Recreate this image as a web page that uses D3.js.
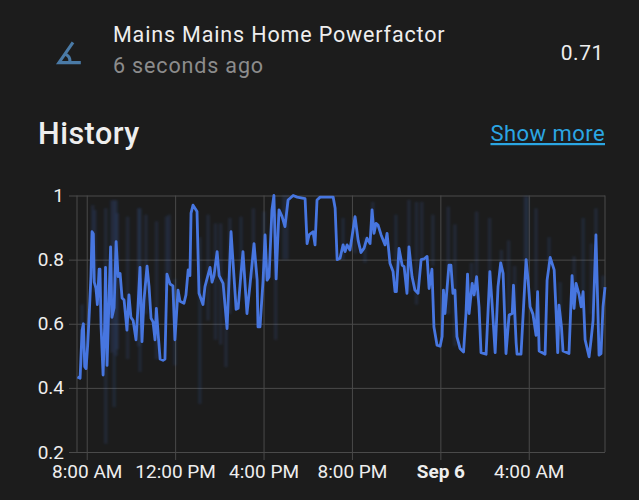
<!DOCTYPE html>
<html><head><meta charset="utf-8">
<script src="https://cdn.jsdelivr.net/npm/d3@7/dist/d3.min.js"></script>
<style>html,body{margin:0;padding:0;background:#1c1c1c;overflow:hidden}svg{display:block;font-family:Roboto,sans-serif}</style>
</head><body><svg id="c" width="639" height="500"></svg>
<script>
// hours after 8:00 AM Sep 5
const hours=[-0.42,-0.30,-0.21,-0.15,-0.09,-0.03,0.04,0.10,0.19,0.24,0.30,0.34,0.42,0.48,0.56,0.60,0.65,0.74,0.81,0.85,0.92,1.01,1.08,1.14,1.24,1.33,1.42,1.51,1.60,1.69,1.78,1.82,1.91,2.00,2.10,2.23,2.32,2.41,2.50,2.59,2.73,2.82,2.91,3.00,3.09,3.15,3.23,3.32,3.45,3.54,3.63,3.77,3.90,3.99,4.13,4.22,4.40,4.49,4.59,4.67,4.72,4.81,4.99,5.08,5.26,5.35,5.58,5.67,5.76,5.90,5.99,6.17,6.35,6.53,6.76,6.85,6.98,7.07,7.25,7.38,7.57,7.71,7.75,7.84,7.98,8.07,8.16,8.25,8.38,8.47,8.57,8.70,8.84,8.97,9.11,9.34,9.52,9.88,9.97,10.06,10.24,10.33,10.42,10.56,11.15,11.24,11.33,11.46,11.60,11.69,11.78,11.91,12.00,12.14,12.28,12.41,12.55,12.68,12.82,12.91,13.00,13.09,13.18,13.32,13.50,13.59,13.72,13.86,13.95,14.01,14.13,14.27,14.36,14.49,14.58,14.72,14.85,14.99,15.13,15.26,15.40,15.49,15.62,15.71,15.85,15.99,16.08,16.14,16.21,16.39,16.48,16.57,16.66,16.75,16.89,17.05,17.16,17.23,17.30,17.44,17.53,17.64,17.75,17.84,18.07,18.24,18.34,18.48,18.61,18.73,18.84,18.97,19.11,19.25,19.31,19.43,19.47,19.65,19.88,19.97,20.06,20.19,20.33,20.40,20.47,20.74,20.83,20.97,21.15,21.24,21.31,21.37,21.48,21.55,21.82,21.96,22.05,22.14,22.28,22.37,22.46,22.55,22.73,22.82,22.91,23.04,23.18,23.27,23.36,23.45];
const powerFactor=[.434,.43,.58,.60,.466,.46,.53,.61,.747,.887,.88,.73,.71,.66,.77,.77,.59,.44,.59,.776,.47,.68,.84,.62,.65,.856,.747,.757,.68,.674,.61,.58,.69,.62,.61,.55,.653,.776,.544,.674,.78,.716,.617,.606,.55,.648,.57,.49,.486,.49,.755,.724,.718,.55,.705,.67,.664,.69,.768,.75,.945,.97,.95,.695,.66,.716,.776,.73,.75,.825,.75,.726,.585,.887,.645,.648,.756,.825,.632,.716,.85,.736,.59,.59,.736,.877,.736,.746,.955,1.0,.74,.955,.934,.903,.986,1.0,.995,.99,.85,.877,.887,.846,.986,.995,.995,.96,.80,.804,.846,.825,.846,.83,.87,.934,.86,.822,.836,.867,.85,.955,.882,.913,.908,.877,.846,.882,.789,.763,.70,.70,.835,.783,.778,.695,.84,.747,.705,.695,.80,.802,.81,.71,.77,.59,.533,.53,.56,.705,.632,.783,.783,.695,.705,.56,.523,.512,.632,.755,.632,.726,.69,.747,.653,.51,.505,.7625,.664,.51,.716,.79,.757,.507,.627,.632,.72,.54,.505,.505,.80,.736,.653,.63,.564,.70,.515,.505,.736,.807,.768,.632,.51,.658,.59,.515,.507,.75,.648,.726,.69,.653,.70,.55,.497,.55,.61,.877,.502,.507,.653,.714];
// faint min/max bands behind the mean line
const bandHours=[-0.21,0.27,0.37,0.86,1.14,1.24,1.33,1.38,1.85,2.35,2.41,2.68,3.16,3.61,3.73,3.99,5.12,5.49,5.83,6.06,6.30,6.48,6.98,7.54,8.02,8.55,8.92,9.06,11.60,12.14,12.59,12.94,13.99,14.58,14.92,15.16,15.66,16.36,16.66,17.64,17.41,18.23,18.76,19.09,19.36,19.84,19.94,20.33,20.92,21.42,22.05,22.46,23.04,23.36,22.84];
const bandHigh=[.66,.97,.955,.96,.985,.985,.985,.945,.934,.96,.96,.94,.92,.935,.94,.74,.87,.94,.913,.913,.74,.93,.934,.96,.95,.945,1.0,1.0,.93,.934,.87,.98,.94,.986,.98,.98,.94,.965,.91,.95,.79,.93,.83,.86,.78,.997,.997,.96,.87,.73,.81,.93,.96,.75,.85];
const bandLow=[.466,.74,.70,.226,.51,.34,.50,.52,.49,.53,.45,.63,.49,.70,.73,.47,.35,.61,.55,.535,.465,.63,.74,.74,.74,.55,.80,.80,.80,.82,.79,.88,.70,.70,.66,.80,.78,.63,.53,.68,.68,.74,.74,.63,.60,.79,.79,.70,.78,.51,.65,.70,.87,.71,.63];
const yTicks=[0.2,0.4,0.6,0.8,1];
const xTicks=[0,4,8,12,16,20];
const xLabels=["8:00 AM","12:00 PM","4:00 PM","8:00 PM","Sep 6","4:00 AM"];

const svg=d3.select("#c");
const defs=svg.append("defs");
defs.append("filter").attr("id","soft").attr("x","-5%").attr("y","-5%").attr("width","110%").attr("height","110%")
  .append("feGaussianBlur").attr("stdDeviation",0.9);
defs.append("filter").attr("id","aa").attr("x","-5%").attr("y","-5%").attr("width","110%").attr("height","110%")
  .append("feGaussianBlur").attr("stdDeviation",0.35);
const x=d3.scaleLinear().domain([-0.44,23.45]).range([77,605]);
const y=d3.scaleLinear().domain([0.2,1]).range([452,195.5]);
const grid="#4a4a4a";

function txt(s,px,py,size,fill,opt={}){
  const t=svg.append("text").attr("x",px).attr("y",py).attr("font-size",size).attr("fill",fill)
    .attr("letter-spacing",opt.ls||0).attr("text-anchor",opt.anchor||"start").attr("font-weight",opt.w||400).text(s);
  if(opt.u)t.attr("text-decoration","underline");
  return t;
}
txt("Mains Mains Home Powerfactor",113,42,21.5,"#eeeeee",{ls:0.85});
txt("6 seconds ago",113,73,21.5,"#8c8c8c",{ls:0.85});
txt("0.71",604,60,21,"#eeeeee",{anchor:"end",ls:0.6});
txt("History",38,144,30.5,"#eeeeee",{w:500,ls:0.5});
txt("Show more",605,141,22,"#2ba6e3",{anchor:"end",u:true,ls:0.45});
svg.append("path").attr("d","M20,19H4.09L14.18,4.43L15.82,5.57L11.28,12.13C12.89,12.96 14,14.62 14,16.54C14,16.7 14,16.85 13.97,17H20V19M7.91,17H11.96C12,16.85 12,16.7 12,16.54C12,15.28 11.24,14.2 10.14,13.74L7.91,17Z")
  .attr("fill","#4a7aa6").attr("transform","translate(49.6,34.5) scale(1.56)");

// axes
const gy=svg.append("g").attr("transform","translate(77,0)")
  .call(d3.axisLeft(y).tickValues(yTicks).tickFormat(d3.format("~g")).tickSize(8).tickPadding(5));
gy.selectAll(".tick line").clone().attr("x1",0).attr("x2",528);
gy.selectAll("line").attr("stroke",grid).attr("stroke-width",1);
gy.select(".domain").attr("stroke",grid).attr("d","M0,195.5V452");
gy.selectAll("text").attr("fill","#eeeeee").attr("font-size",19).attr("font-family","Roboto,sans-serif");

const gx=svg.append("g").attr("transform","translate(0,452)")
  .call(d3.axisBottom(x).tickValues(xTicks).tickFormat((d,i)=>xLabels[i]).tickSize(8).tickPadding(5));
gx.selectAll(".tick line").clone().attr("y1",0).attr("y2",-256.5);
gx.selectAll("line").attr("stroke",grid).attr("stroke-width",1);
gx.select(".domain").remove();
gx.selectAll("text").attr("fill","#eeeeee").attr("font-size",19).attr("font-family","Roboto,sans-serif")
  .attr("font-weight",(d,i)=>i===4?700:400);
svg.append("line").attr("x1",x(23.45)).attr("x2",x(23.45)).attr("y1",y(1)).attr("y2",y(0.2)).attr("stroke",grid);

// bands
svg.append("g").attr("filter","url(#soft)").selectAll("line").data(bandHours).join("line")
  .attr("x1",d=>x(d)).attr("x2",d=>x(d))
  .attr("y1",(d,i)=>y(bandHigh[i])).attr("y2",(d,i)=>y(bandLow[i]))
  .attr("stroke","#4472d6").attr("stroke-opacity",0.13).attr("stroke-width",3.5);

// mean line
const line=d3.line().x(d=>x(d[0])).y(d=>y(d[1]));
svg.append("path").datum(hours.map((h,i)=>[h,powerFactor[i]])).attr("d",line).attr("filter","url(#aa)")
  .attr("fill","none").attr("stroke","#4676e0").attr("stroke-width",2.8).attr("stroke-linejoin","round");
</script></body></html>
